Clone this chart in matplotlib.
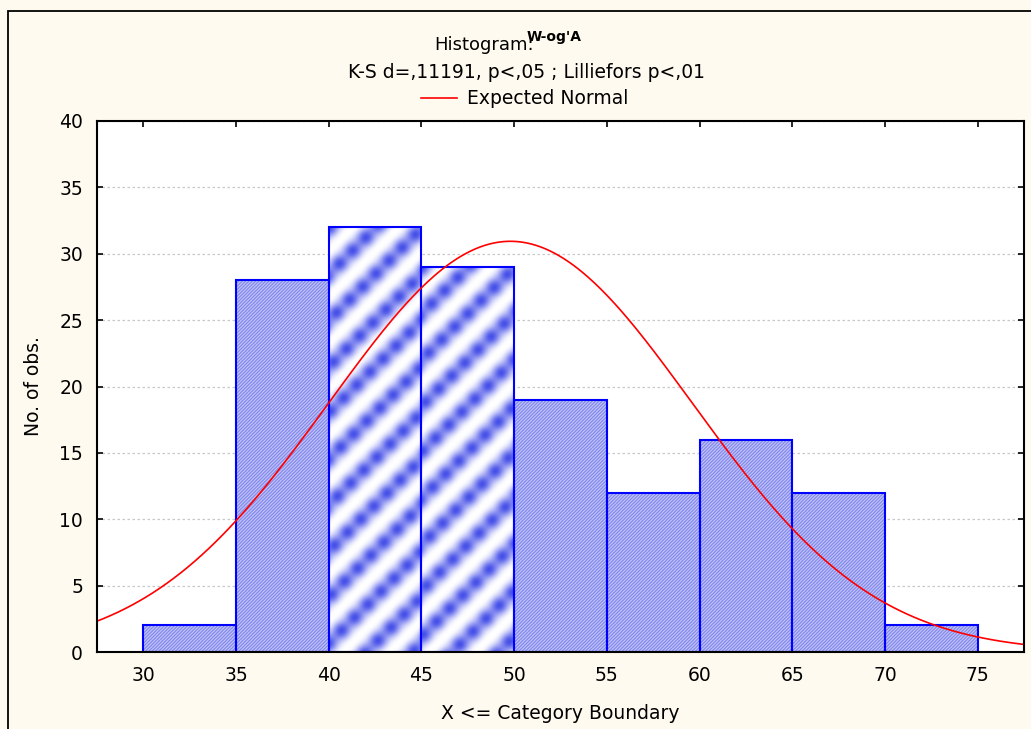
import numpy as np
import matplotlib.pyplot as plt
from matplotlib.patches import Rectangle
from matplotlib.lines import Line2D
from matplotlib.colors import LinearSegmentedColormap

plt.rcParams['font.family'] = ['DejaVu Sans']

# histogram data
bin_edges = [30, 35, 40, 45, 50, 55, 60, 65, 70, 75]
counts = [2, 28, 32, 29, 19, 12, 16, 12, 2]
# the two bins drawn with the coarse stripe pattern
striped_bins = [2, 3]
# expected normal curve parameters
norm_mean = 49.8
norm_sd = 9.8
n_obs = sum(counts)

xticks = [30, 35, 40, 45, 50, 55, 60, 65, 70, 75]
yticks = [0, 5, 10, 15, 20, 25, 30, 35, 40]

bg = '#fffaef'
W, H = 1031, 729
fig = plt.figure(figsize=(W / 100, H / 100), dpi=100, facecolor=bg)

# black frame around the figure
fig.patches.append(Rectangle((8 / W, -0.1), 1.2, 1 - 11 / H + 0.1,
                             transform=fig.transFigure, fill=False,
                             edgecolor='black', linewidth=1.3))

ax = fig.add_axes([97 / W, 1 - 652 / H, 927 / W, 531 / H])
ax.set_facecolor('white')
ax.set_xlim(27.5, 77.5)
ax.set_ylim(0, 40)

ax.yaxis.grid(True, linestyle=(0, (2, 2)), color='#c8c8c8', linewidth=0.9)
ax.set_axisbelow(True)

lefts = np.array(bin_edges[:-1])
width = 5

# plain hatched bars
plain = [i for i in range(len(counts)) if i not in striped_bins]
ax.bar(lefts[plain], [counts[i] for i in plain], width=width, align='edge',
       facecolor='#c8cbf8', edgecolor='#868cee', hatch='//////////',
       linewidth=0, zorder=2)

# coarse blurred stripe pattern for the two bins
px_per_x = 927 / 50
px_per_y = 531 / 40
cmap = LinearSegmentedColormap.from_list('stripe', ['#ffffff', '#4650e8'])
for i in striped_bins:
    nx = int(width * px_per_x)
    ny = int(counts[i] * px_per_y)
    u, v = np.meshgrid(np.arange(nx), np.arange(ny))
    tex = 0.5 + 0.5 * np.cos(2 * np.pi * (u + v) / 46.0)
    tex = tex ** 1.3 * (0.85 + 0.15 * np.cos(2 * np.pi * (u - v) / 26.0))
    bar = ax.bar(lefts[i], counts[i], width=width, align='edge',
                 facecolor='white', linewidth=0, zorder=2)[0]
    im = ax.imshow(tex, cmap=cmap, vmin=0, vmax=1, origin='upper',
                   extent=(lefts[i], lefts[i] + width, 0, counts[i]),
                   aspect='auto', zorder=2.5, interpolation='bilinear')
    im.set_clip_path(bar)

# blue outlines
ax.bar(lefts, counts, width=width, align='edge', fill=False,
       edgecolor='#0000ff', linewidth=1.5, zorder=3)

# expected normal curve
xs = np.linspace(27.5, 77.5, 400)
ys = n_obs * width / (norm_sd * np.sqrt(2 * np.pi)) * np.exp(-0.5 * ((xs - norm_mean) / norm_sd) ** 2)
ax.plot(xs, ys, color='#ff0000', linewidth=1.2, zorder=4)

ax.set_xticks(xticks)
ax.set_yticks(yticks)
ax.tick_params(direction='in', length=4, width=1.2, top=True, right=True,
               labelsize=13.5, colors='black', pad=10)
for s in ax.spines.values():
    s.set_linewidth(1.5)
    s.set_zorder(5)

ax.set_xlabel('X <= Category Boundary', fontsize=13.5, labelpad=14)
ax.set_ylabel('No. of obs.', fontsize=13.5, labelpad=12)

# titles and legend
fig.text(484 / W, 1 - 45 / H, 'Histogram:', ha='center', va='center', fontsize=13)
fig.text(527 / W, 1 - 37 / H, "W-og'A", ha='left', va='center', fontsize=10,
         fontweight='bold')
fig.text(527 / W, 1 - 72 / H, 'K-S d=,11191, p<,05 ; Lilliefors p<,01',
         ha='center', va='center', fontsize=13.5)
fig.add_artist(Line2D([421 / W, 457 / W], [1 - 98 / H, 1 - 98 / H],
                      transform=fig.transFigure, color='#ff0000', linewidth=1.2))
fig.text(467 / W, 1 - 98 / H, 'Expected Normal', ha='left', va='center', fontsize=13.5)

fig.savefig('out.png', dpi=100, facecolor=bg)
